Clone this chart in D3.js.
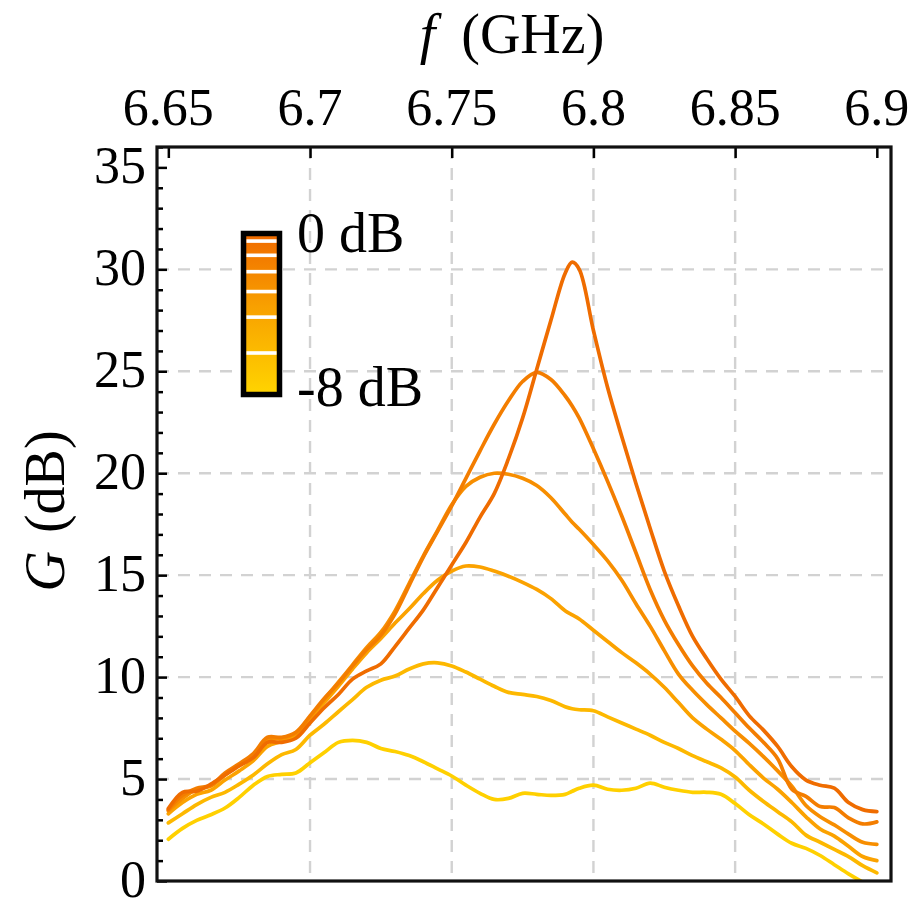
<!DOCTYPE html>
<html><head><meta charset="utf-8">
<script src="https://cdn.jsdelivr.net/npm/d3@7"></script>
<style>
body{margin:0;background:#fff;}
svg{display:block;font-family:"Liberation Serif","Times New Roman",serif;}
</style>
</head><body>
<svg id="chart" width="917" height="899"></svg>
<script>
// ---------- data ----------
const freq = [6.65,6.655,6.66,6.665,6.67,6.675,6.68,6.685,6.69,6.695,
  6.70,6.705,6.71,6.715,6.72,6.725,6.73,6.735,6.74,6.745,
  6.75,6.755,6.76,6.765,6.77,6.775,6.78,6.785,6.79,6.7925,
  6.795,6.80,6.805,6.81,6.815,6.82,6.825,6.83,6.835,6.84,
  6.845,6.85,6.855,6.86,6.865,6.87,6.875,6.88,6.885,6.89,
  6.895,6.90];

const gainP0 = [3.55,4.35,4.4,4.75,5.2,5.65,6.05,6.8,6.8,7.0,
  7.75,8.5,9.15,9.9,10.3,10.65,11.5,12.4,13.3,14.4,
  15.5,16.6,17.85,19.0,20.7,22.7,25.1,27.5,29.8,30.35,
  30.0,27.0,24.2,21.8,19.5,17.3,15.2,13.5,12.0,10.9,
  9.9,9.05,8.1,7.4,6.6,5.6,4.95,4.7,4.55,3.85,
  3.5,3.4];
const gainP1 = [3.5,4.2,4.55,4.7,5.3,5.75,6.25,7.05,7.05,7.3,
  8.1,8.95,9.7,10.55,11.35,12.05,13.1,14.5,15.9,17.15,
  18.4,19.75,21.1,22.4,23.55,24.5,24.95,24.6,23.8,23.3,
  22.7,21.2,19.6,17.9,16.1,14.3,12.8,11.6,10.55,9.7,
  9.0,8.25,7.5,6.8,6.0,4.5,4.15,3.65,3.6,3.1,
  2.8,2.9];
const gainP2 = [3.45,4.05,4.5,4.65,5.2,5.7,6.2,6.9,7.0,7.25,
  8.05,8.9,9.75,10.6,11.45,12.2,13.25,14.6,15.95,17.2,
  18.45,19.35,19.8,20.0,19.95,19.75,19.4,18.8,18.0,17.6,
  17.25,16.5,15.7,14.75,13.6,12.5,11.3,10.15,9.35,8.65,
  8.0,7.35,6.75,6.1,5.4,4.65,3.7,3.15,2.75,2.3,
  1.9,1.8];
const gainP3 = [3.3,3.85,4.25,4.45,4.95,5.4,5.9,6.6,6.85,7.15,
  7.95,8.75,9.55,10.4,11.2,11.9,12.65,13.35,14.1,14.75,
  15.2,15.45,15.4,15.2,14.95,14.65,14.3,13.85,13.25,13.05,
  12.85,12.3,11.75,11.2,10.7,10.15,9.5,8.75,8.0,7.45,
  6.95,6.4,5.7,5.05,4.5,3.85,3.15,2.55,2.2,1.7,
  1.2,1.0];
const gainP4 = [2.85,3.3,3.75,4.1,4.35,4.75,5.2,5.75,6.2,6.45,
  7.15,7.7,8.3,8.9,9.5,9.85,10.05,10.4,10.65,10.7,
  10.55,10.25,9.9,9.55,9.25,9.15,9.05,8.85,8.55,8.45,
  8.4,8.35,8.05,7.75,7.45,7.15,6.8,6.5,6.15,5.85,
  5.55,5.1,4.45,3.9,3.4,2.9,2.25,1.9,1.55,1.2,
  0.75,0.4];
const gainP5 = [2.05,2.58,2.97,3.25,3.58,4.1,4.7,5.13,5.23,5.3,
  5.8,6.3,6.8,6.9,6.8,6.5,6.35,6.15,5.85,5.5,
  5.15,4.7,4.3,4.0,4.05,4.3,4.25,4.2,4.25,4.4,
  4.55,4.7,4.5,4.45,4.55,4.8,4.6,4.45,4.35,4.35,
  4.25,3.8,3.25,2.8,2.3,1.85,1.6,1.25,0.8,0.35,
  -0.05,-0.4];

const seriesGains = [gainP5, gainP4, gainP3, gainP2, gainP1, gainP0];
const seriesColors = ["#ffd000", "#fdb800", "#fba200", "#f78e00", "#f37d00", "#ef6c00"];

const xTickValues = [6.65, 6.7, 6.75, 6.8, 6.85, 6.9];
const xTickLabels = ["6.65", "6.7", "6.75", "6.8", "6.85", "6.9"];
const xGridValues = [6.7, 6.75, 6.8, 6.85];
const yTickValues = [0, 5, 10, 15, 20, 25, 30, 35];
const yTickLabels = ["0", "5", "10", "15", "20", "25", "30", "35"];
const yGridValues = [5, 10, 15, 20, 25, 30];
const yMinorValues = d3.range(0, 37, 1);

const legendRange = [0, -8];            // dB, top to bottom
const legendSteps = [-0.26, -0.99, -1.83, -2.85, -4.16, -6.0];
const legendLabels = ["0 dB", "-8 dB"];

// ---------- layout ----------
const svg = d3.select("#chart");
const L = 157, R = 891, T = 147, B = 881;
const x = d3.scaleLinear().domain([6.646, 6.905]).range([L, R]);
const y = d3.scaleLinear().domain([0, 36]).range([B, T]);

// grid
const grid = svg.append("g").attr("stroke", "#d2d2d2").attr("stroke-width", 2.4)
  .attr("stroke-dasharray", "12,9");
grid.selectAll(".gx").data(xGridValues).join("line")
  .attr("x1", d => x(d)).attr("x2", d => x(d)).attr("y1", T).attr("y2", B);
grid.selectAll(".gy").data(yGridValues).join("line")
  .attr("x1", L).attr("x2", R).attr("y1", d => y(d)).attr("y2", d => y(d));

// clip
svg.append("clipPath").attr("id", "clip").append("rect")
  .attr("x", L).attr("y", T).attr("width", R - L).attr("height", B - T);

const line = d3.line()
  .x((d, i) => x(freq[i]))
  .y(d => y(d))
  .curve(d3.curveCatmullRom.alpha(0.5));

svg.append("g").attr("clip-path", "url(#clip)")
  .selectAll("path").data(seriesGains).join("path")
  .attr("d", d => line(d))
  .attr("fill", "none")
  .attr("stroke", (d, i) => seriesColors[i])
  .attr("stroke-width", 3.7)
  .attr("stroke-linejoin", "round")
  .attr("stroke-linecap", "round");

// axes (ticks inward)
const yAxisMinor = d3.axisRight(y).tickValues(yMinorValues.filter(v => v % 5 !== 0))
  .tickSize(6).tickFormat("");
svg.append("g").attr("transform", `translate(${L},0)`).call(yAxisMinor)
  .call(g => g.select(".domain").remove())
  .call(g => g.selectAll("line").attr("stroke", "#000").attr("stroke-width", 2.5));
const yAxis = d3.axisRight(y).tickValues(yTickValues).tickSize(10).tickFormat("");
svg.append("g").attr("transform", `translate(${L},0)`).call(yAxis)
  .call(g => g.select(".domain").remove())
  .call(g => g.selectAll("line").attr("stroke", "#000").attr("stroke-width", 2.5));
const xAxis = d3.axisBottom(x).tickValues(xTickValues).tickSize(11).tickFormat("");
svg.append("g").attr("transform", `translate(0,${T})`).call(xAxis)
  .call(g => g.select(".domain").remove())
  .call(g => g.selectAll("line").attr("stroke", "#000").attr("stroke-width", 2.5));

// frame
svg.append("rect").attr("x", L).attr("y", T).attr("width", R - L).attr("height", B - T)
  .attr("fill", "none").attr("stroke", "#111").attr("stroke-width", 3.2);

// tick labels
svg.append("g").selectAll("text").data(xTickValues).join("text")
  .attr("x", d => x(d)).attr("y", 125).attr("text-anchor", "middle")
  .attr("font-size", 52).attr("fill", "#000").text((d, i) => xTickLabels[i]);
svg.append("g").selectAll("text").data(yTickValues).join("text")
  .attr("x", 146).attr("y", d => y(d) + 16).attr("text-anchor", "end")
  .attr("font-size", 52).attr("fill", "#000").text((d, i) => yTickLabels[i]);

// axis titles
const tt = svg.append("text").attr("x", 512).attr("y", 53).attr("text-anchor", "middle")
  .attr("font-size", 56).attr("fill", "#000");
tt.append("tspan").attr("font-style", "italic").text("f");
tt.append("tspan").attr("dx", 26).text("(GHz)");

const yt = svg.append("text").attr("transform", "translate(64,511) rotate(-90)")
  .attr("text-anchor", "middle").attr("font-size", 56).attr("fill", "#000");
yt.append("tspan").attr("font-style", "italic").text("G");
yt.append("tspan").attr("dx", 18).text("(dB)");

// colour-bar legend
const ly = d3.scaleLinear().domain(legendRange).range([236, 392]);
const defs = svg.append("defs");
const grad = defs.append("linearGradient").attr("id", "lg").attr("x1", 0).attr("x2", 0).attr("y1", 0).attr("y2", 1);
grad.append("stop").attr("offset", "0%").attr("stop-color", "#f06a00");
grad.append("stop").attr("offset", "45%").attr("stop-color", "#f8a000");
grad.append("stop").attr("offset", "100%").attr("stop-color", "#ffd400");
svg.append("rect").attr("x", 243.5).attr("y", ly(0) - 2.5).attr("width", 36).attr("height", ly(-8) - ly(0) + 5)
  .attr("fill", "url(#lg)").attr("stroke", "#000").attr("stroke-width", 5.5);
svg.append("g").selectAll("rect").data(legendSteps).join("rect")
  .attr("x", 246.5).attr("width", 30).attr("y", d => ly(d) - 1.8).attr("height", 3.6)
  .attr("fill", "#fff");
svg.append("text").attr("x", 297).attr("y", 252).attr("font-size", 56).attr("fill", "#000").text(legendLabels[0]);
svg.append("text").attr("x", 297).attr("y", 406).attr("font-size", 56).attr("fill", "#000").text(legendLabels[1]);
</script>
</body></html>
